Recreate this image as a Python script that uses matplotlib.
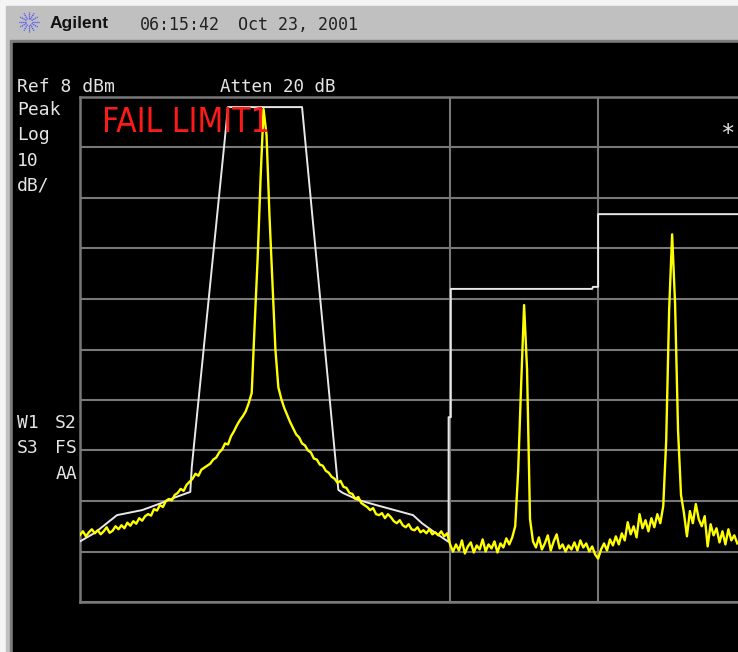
import numpy as np
import matplotlib
matplotlib.use('Agg')
import matplotlib.pyplot as plt
from matplotlib.patches import Rectangle

# screen settings
ref_level = 8          # dBm at top graticule line
db_per_div = 10
n_ydiv = 10
x_max_div = 8.89       # visible part of the sweep, in divisions
point_step = 0.04      # sweep point spacing, divisions

# measured trace (dBm), one value per sweep point
trace_db = [
    -78.7, -78.0, -79.0, -78.2, -77.6, -78.4, -77.8, -78.6, -78.0, -77.2,
    -78.3, -77.9, -77.0, -77.6, -76.8, -77.4, -76.3, -76.9, -76.0, -76.5,
    -75.4, -75.9, -75.0, -74.6, -74.9, -73.6, -73.9, -72.8, -73.2, -72.0,
    -71.6, -71.9, -70.8, -70.4, -69.6, -70.0, -68.8, -68.2, -67.6, -66.6,
    -67.0, -65.8, -65.4, -65.0, -64.6, -63.8, -63.4, -62.4, -61.8, -60.6,
    -60.8, -59.2, -58.2, -57.0, -56.0, -55.2, -54.2, -52.6, -50.6, -37.0,
    -24.0, -8.0, 5.6, 0.5, -15.5, -29.0, -42.0, -49.5, -51.8, -53.6,
    -55.0, -56.4, -57.6, -58.8, -59.4, -60.6, -61.0, -62.0, -62.4, -63.6,
    -63.8, -64.8, -65.0, -66.0, -66.4, -67.2, -67.6, -68.4, -68.0, -69.2,
    -69.4, -70.4, -70.6, -71.6, -71.2, -72.4, -72.8, -73.2, -73.8, -73.4,
    -74.6, -74.8, -74.4, -75.4, -74.6, -75.2, -76.0, -76.4, -75.8, -76.8,
    -77.2, -76.6, -77.6, -77.8, -77.2, -78.2, -77.8, -78.4, -77.6, -78.6,
    -78.2, -78.8, -78.0, -79.0, -78.4, -80.6, -82.0, -80.6, -81.8, -79.8,
    -82.4, -81.0, -80.2, -82.2, -80.8, -81.6, -79.6, -82.0, -80.6, -81.4,
    -80.0, -82.2, -80.4, -81.2, -79.4, -80.6, -79.2, -77.0, -66.0, -49.0,
    -33.2, -46.0, -75.6, -80.0, -81.2, -79.2, -81.6, -80.4, -78.8, -81.8,
    -80.0, -78.6, -81.4, -80.6, -82.0, -80.8, -81.6, -80.2, -81.8, -79.8,
    -81.2, -80.4, -82.0, -81.0, -82.6, -83.4, -81.6, -80.4, -81.8, -79.6,
    -80.8, -79.0, -80.6, -78.4, -79.8, -76.2, -78.6, -77.0, -79.2, -74.6,
    -77.4, -75.8, -78.0, -75.4, -77.2, -74.6, -76.4, -73.0, -60.0, -34.0,
    -19.2, -33.0, -58.0, -70.8, -74.4, -79.0, -74.0, -76.4, -72.6, -75.6,
    -77.0, -75.0, -81.0, -76.6, -78.8, -77.4, -80.2, -78.0, -80.6, -77.6,
    -79.8, -78.8, -80.4,
]

# limit line 1 (division, dBm)
limit_div = [0.0, 0.2, 0.38, 0.5, 0.84, 1.1, 1.3, 1.49, 1.51, 2.0, 3.0, 3.49,
             3.55, 3.76, 4.0, 4.5, 4.62, 4.8, 4.98, 4.98, 5.01, 5.01, 6.92,
             6.93, 7.0, 7.0, 8.9]
limit_db = [-80.0, -78.3, -76.2, -74.8, -73.8, -72.4, -71.2, -70.2, -65.3, 6.0,
            6.0, -69.8, -70.4, -71.8, -72.8, -74.8, -76.4, -78.3, -80.1, -55.4,
            -55.4, -30.0, -30.0, -29.6, -29.6, -15.2, -15.2]

vgrid_div = [5, 7]

W, H = 738, 652
fig = plt.figure(figsize=(W / 100, H / 100), dpi=100)

# instrument frame, in screen pixels
bg = fig.add_axes([0, 0, 1, 1])
bg.set_xlim(0, W)
bg.set_ylim(H, 0)
bg.axis('off')
bg.add_patch(Rectangle((0, 0), W, H, color='#f4f4f4'))
bg.add_patch(Rectangle((6, 6), W, H, color='#c0c0c0'))
bg.add_patch(Rectangle((10, 40), W, H, color='#7c7c7c'))
bg.add_patch(Rectangle((13, 43), W, H, color='black'))

# agilent spark logo
for a in np.arange(0, 360, 30):
    r = np.radians(a)
    bg.plot([29 + 3 * np.cos(r), 29 + 10 * np.cos(r)],
            [22 + 3 * np.sin(r), 22 + 10 * np.sin(r)],
            color='#4a4aff', lw=0.9, ls=(0, (1, 0.6)))

# graticule
bottom = ref_level - n_ydiv * db_per_div
ax = fig.add_axes([80 / W, (H - 602) / H, (W - 80) / W, 505 / H])
ax.set_facecolor('none')
ax.set_xlim(0, x_max_div)
ax.set_ylim(bottom, ref_level)
ax.set_yticks(np.arange(bottom, ref_level + 1, db_per_div))
ax.set_xticks(vgrid_div)
ax.tick_params(length=0, labelleft=False, labelbottom=False)
ax.grid(True, color='#787878', lw=1.5)
for side in ['left', 'top', 'bottom']:
    ax.spines[side].set_color('#787878')
    ax.spines[side].set_linewidth(1.8)
ax.spines['right'].set_visible(False)

trace_div = np.arange(len(trace_db)) * point_step
ax.plot(limit_div, limit_db, color='#e8e8e8', lw=1.4, zorder=3)
ax.plot(trace_div, trace_db, color='#ffff00', lw=1.7, zorder=4)

# header and annotations
mono = 'DejaVu Sans Mono'
txt = '#e4e4e4'
def label(x, y, s, **kw):
    fig.text(x, y, s, transform=bg.transData, va='baseline', **kw)

label(50, 28, 'Agilent', family='Liberation Sans', weight='bold', fontsize=12.5, color='#111111')
label(140, 30, '06:15:42', family=mono, fontsize=12, color='#222222')
label(238, 30, 'Oct 23, 2001', family=mono, fontsize=12, color='#222222')

label(17, 92, 'Ref 8 dBm', family=mono, fontsize=13, color=txt)
label(220, 92, 'Atten 20 dB', family=mono, fontsize=12.6, color=txt)
for y, s in [(115, 'Peak'), (140, 'Log'), (166, '10'), (191, 'dB/')]:
    label(17, y, s, family=mono, fontsize=13, color=txt)
label(17, 428, 'W1', family=mono, fontsize=13, color=txt)
label(77, 428, 'S2', family=mono, fontsize=13, color=txt, ha='right')
label(17, 453, 'S3', family=mono, fontsize=13, color=txt)
label(77, 453, 'FS', family=mono, fontsize=13, color=txt, ha='right')
label(77, 479, 'AA', family=mono, fontsize=13, color=txt, ha='right')

label(102, 132, 'FAIL LIMIT1', family='DejaVu Sans', fontstretch='condensed',
      fontsize=24, color='#ff1a1a')
label(727, 141, '*', family=mono, fontsize=17, color=txt, ha='center')

fig.savefig('out.png', dpi=100, facecolor='black')
